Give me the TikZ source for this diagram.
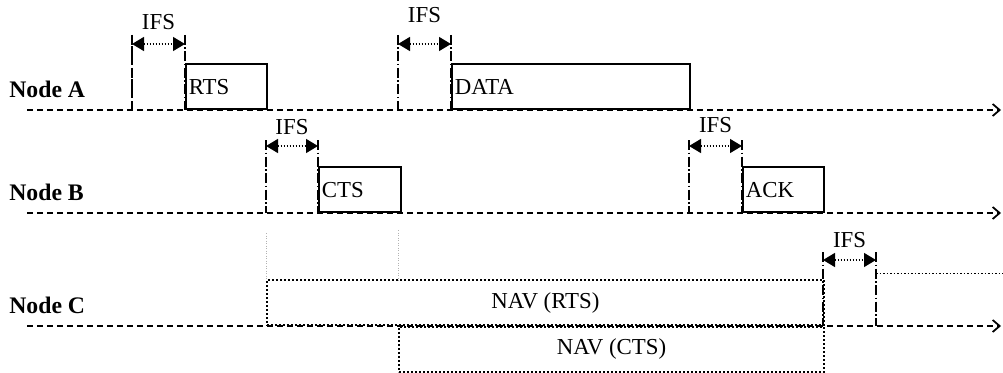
\documentclass[tikz,border=0pt]{standalone}
\usepackage{fontspec}
\setmainfont{Liberation Serif}
\usetikzlibrary{arrows.meta}

\begin{document}
\begin{tikzpicture}[x=0.2mm,y=-0.2mm,
    timeline/.style={line width=0.6pt, dash pattern=on 1.2mm off 0.8mm, -{Straight Barb[length=1.4mm,width=2.4mm,line width=1pt]}},
    tickline/.style={line width=0.7pt, dash pattern=on 2mm off 0.5mm on 0.3mm off 0.5mm},
    gap/.style={line width=0.8pt, dash pattern=on 0.3mm off 0.3mm, {Triangle[length=2.4mm,width=2.8mm]}-{Triangle[length=2.4mm,width=2.8mm]}},
    pkt/.style={draw, line width=1pt, anchor=south west, minimum height=9mm, text width=#1, inner xsep=0.6mm, align=left, font=\fontsize{13}{15}\selectfont},
    nav/.style={draw, line width=1.1pt, dash pattern=on 0.4mm off 0.4mm, minimum height=9mm, minimum width=#1, inner sep=0pt, font=\fontsize{13}{15}\selectfont},
    ifslab/.style={font=\fontsize{13}{15}\selectfont, inner sep=0pt},
    station/.style={font=\bfseries\fontsize{13.5}{15}\selectfont, anchor=west, inner sep=0pt}]
  \useasboundingbox (0,0) rectangle (1003,373);

  % time lines
  \node[station] (nA) at (9,89) {Node A};
  \node[station] (nB) at (9,192) {Node B};
  \node[station] (nC) at (9,305) {Node C};
  \coordinate (A0) at (27,110);  \coordinate (A1) at (1001,110);
  \coordinate (B0) at (27,213);  \coordinate (B1) at (1001,213);
  \coordinate (C0) at (27,326);  \coordinate (C1) at (1001,326);
  \draw[timeline] (A0) -- (A1);
  \draw[timeline] (B0) -- (B1);
  \draw[timeline] (C0) -- (C1);

  % IFS gaps: name/left/right/top/bottom/arrow/label y
  \foreach \n/\l/\r/\t/\b/\a/\y in {1/132/185/35/110/44/22, 2/398/451/35/110/44/15,
                                   3/266/318/140/213/146/127, 4/689/742/140/213/146/125,
                                   5/823/876/252/326/260/240} {
    \coordinate (g\n tl) at (\l,\t); \coordinate (g\n bl) at (\l,\b);
    \coordinate (g\n tr) at (\r,\t); \coordinate (g\n br) at (\r,\b);
    \coordinate (g\n l) at (\l,\a);  \coordinate (g\n r) at (\r,\a);
    \draw[tickline] (g\n tl) -- (g\n bl);
    \draw[tickline] (g\n tr) -- (g\n br);
    \draw[gap] (g\n l) -- (g\n r);
    \node[ifslab] (ifs\n) at ({(\l+\r)/2},\y) {IFS};
  }
  \draw[line width=0.6pt, dash pattern=on 1.4mm off 0.8mm] (g1tl) -- (g1bl);

  % frames
  \node[pkt=15mm] (rts) at (185,110) {RTS};
  \node[pkt=46.4mm] (data) at (451,110) {DATA};
  \node[pkt=15.2mm] (cts) at (318,213) {CTS};
  \node[pkt=15mm] (ack) at (742,213) {ACK};

  % NAV at node C
  \coordinate (v1t) at (266,233); \coordinate (v1b) at (266,281);
  \coordinate (v2t) at (398,230); \coordinate (v2b) at (398,281);
  \draw[gray!60, line width=0.5pt, dash pattern=on 0.2mm off 0.3mm] (v1t) -- (v1b);
  \draw[gray!60, line width=0.5pt, dash pattern=on 0.2mm off 0.3mm] (v2t) -- (v2b);
  \node[nav=111.4mm, anchor=south west] (navrts) at (266,326) {NAV (RTS)};
  \node[nav=85mm, anchor=north west] (navcts) at (398,326) {NAV (CTS)};
  \coordinate (w0) at (876,273); \coordinate (w1) at (1003,273);
  \draw[line width=0.5pt, dash pattern=on 0.3mm off 0.4mm] (w0) -- (w1);
\end{tikzpicture}
\end{document}
